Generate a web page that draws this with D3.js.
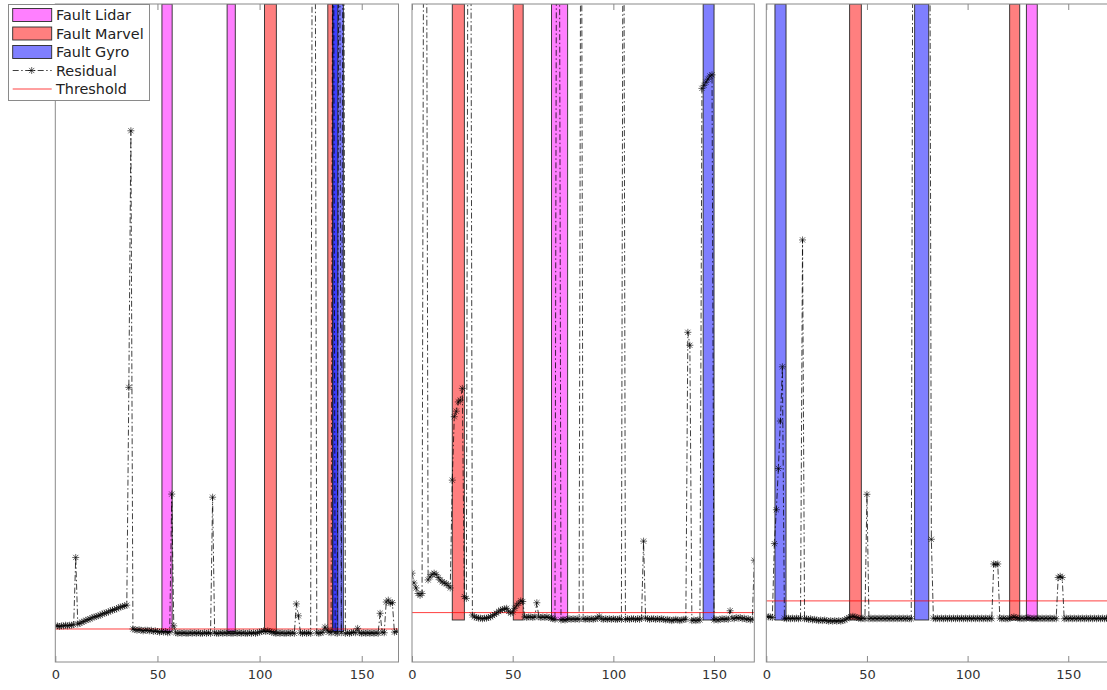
<!DOCTYPE html>
<html><head><meta charset="utf-8">
<script src="https://cdn.jsdelivr.net/npm/d3@7"></script>
<style>body{margin:0;background:#fff;} svg{display:block;font-family:"DejaVu Sans",sans-serif;}</style>
</head><body><svg id="c" width="1107" height="690"></svg>
<script>
// ---------- data ----------
const xTicks = [0, 50, 100, 150];
const legendLabels = ["Fault Lidar", "Fault Marvel", "Fault Gyro", "Residual", "Threshold"];

const residual1 = [
0.9,0.9,0.8,0.9,0.9,1.0,0.9,1.0,1.0,1.1,
11.8,1.2,1.3,1.5,1.6,1.8,1.9,2.0,2.2,2.3,
2.4,2.5,2.6,2.8,2.9,3.0,3.1,3.3,3.4,3.5,
3.6,3.8,3.9,4.0,4.1,4.2,38.9,79.8,0.4,0.3,
0.2,0.3,0.2,0.1,0.2,0.2,0.1,0.2,0.0,0.1,
0.0,-0.1,0.0,-0.1,0.0,-0.2,-0.1,21.9,0.9,-0.2,
-0.3,-0.2,-0.3,-0.2,-0.3,-0.3,-0.2,-0.3,-0.2,-0.3,
-0.2,-0.3,-0.3,-0.2,-0.3,-0.2,-0.3,21.4,-0.2,-0.3,
-0.3,-0.2,-0.3,-0.2,-0.3,-0.2,-0.3,-0.3,-0.2,-0.3,
-0.2,-0.3,-0.2,-0.3,-0.3,-0.2,-0.3,-0.2,-0.3,-0.2,
-0.1,0.0,0.1,0.0,0.1,0.0,-0.1,-0.2,-0.3,-0.2,
-0.3,-0.2,-0.3,-0.3,-0.2,-0.3,-0.2,-0.3,4.4,2.5,
-0.2,-0.3,-0.2,-0.3,-0.2,-0.3,150,150,-0.2,-0.3,
-0.2,-0.1,0.7,0.2,-0.1,-0.2,150,-0.2,-0.3,150,
-0.2,150,-0.3,-0.2,-0.3,-0.2,-0.1,-0.2,0.5,-0.2,
-0.3,-0.2,-0.3,-0.2,-0.3,-0.2,-0.3,-0.2,-0.3,2.9,
-0.1,-0.2,4.7,5.0,4.5,4.6,-0.1,0.0];

const residual2 = [
7.6,6.0,5.2,4.3,4.0,4.3,150,150,6.5,7.0,
7.4,7.6,7.4,6.9,6.5,6.2,6.0,5.9,5.6,5.2,
22.7,33.0,33.9,35.4,35.7,37.6,3.8,3.5,150,150,
0.8,0.5,0.4,0.3,0.3,0.2,0.3,0.3,0.4,0.5,
0.7,0.9,1.1,1.4,1.6,1.7,1.8,1.9,1.4,1.1,
1.3,1.9,2.4,2.7,3.1,3.0,0.5,0.4,0.5,0.5,
0.4,0.5,2.8,0.5,0.4,0.5,0.4,0.5,0.4,0.3,
0.2,0.1,150,150,0.0,0.1,0.0,0.1,0.2,0.1,
0.2,0.1,0.2,0.1,150,0.2,0.1,0.2,0.1,0.2,
0.1,0.2,0.3,0.6,0.2,0.1,0.2,0.1,0.2,0.1,
0.2,0.1,0.1,0.2,0.1,150,0.1,0.2,0.1,0.2,
0.2,0.1,0.2,0.1,0.3,12.8,0.3,0.2,0.1,0.2,
0.2,0.1,0.2,0.1,0.2,0.1,0.0,0.1,0.0,-0.1,
0.0,0.1,0.0,-0.1,0.0,0.1,0.1,46.7,44.6,-0.1,
0.0,-0.1,0.0,0.0,86.3,86.8,87.3,87.8,88.3,88.5,
0.0,0.1,0.0,0.1,0.2,0.1,0.2,0.1,1.5,0.3,
0.2,0.4,0.3,0.4,0.2,0.3,0.1,0.2,0.0,0.1,9.7];

const residual3 = [
0.6,0.5,0.5,0.4,12.4,17.9,24.6,32.3,41.1,0.3,
0.2,0.3,0.2,0.3,0.2,0.3,0.2,0.3,61.7,0.2,
0.2,0.1,0.2,0.0,0.1,0.0,-0.1,0.0,-0.1,0.0,
-0.1,-0.2,-0.1,-0.2,-0.1,-0.2,-0.1,-0.2,-0.1,0.0,
0.2,0.4,0.5,0.6,0.5,0.4,0.3,0.2,0.3,0.2,
20.4,0.2,0.3,0.2,0.3,0.2,0.3,0.2,0.3,0.2,
0.3,0.2,0.3,0.2,0.3,0.2,0.3,0.2,0.3,0.2,
0.3,0.2,0.2,150,150,150,150,150,150,150,
150,150,13.1,0.3,0.2,0.3,0.2,0.3,0.2,0.3,
0.2,0.3,0.2,0.3,0.2,0.3,0.2,0.3,0.2,0.3,
0.2,0.3,0.2,0.3,0.2,0.3,0.2,0.3,0.2,0.3,
0.2,0.3,0.2,9.1,9.0,9.1,0.3,0.2,0.3,0.2,
0.2,0.3,0.4,0.5,0.4,0.3,0.2,0.3,0.2,0.3,
0.4,0.3,0.2,0.3,0.2,0.3,0.2,0.3,0.2,0.3,
0.2,0.3,0.2,0.3,0.2,6.9,7.1,6.9,0.2,0.3,
0.2,0.3,0.2,0.3,0.2,0.3,0.2,0.3,0.2,0.3,
0.2,0.3,0.2,0.3,0.2,0.3,0.2,0.3,0.2,0.3,0.2];

const thresholds = [0.4, 1.2, 3.1];

const lidarFaults1  = [[52.2, 57.2], [84.1, 88.1]];
const marvelFaults1 = [[102.4, 108.2], [133.4, 135.8]];
const gyroFaults1   = [[135.8, 141.0], [135.8, 138.3]];
const lidarFaults2  = [[69.3, 77.3]];
const marvelFaults2 = [[20.0, 26.0], [50.3, 55.2]];
const gyroFaults2   = [[144.6, 150.0]];
const lidarFaults3  = [[129.2, 134.6]];
const marvelFaults3 = [[41.4, 47.2], [120.9, 125.9]];
const gyroFaults3   = [[4.3, 9.8], [73.7, 80.7]];

const xMax = [168, 170, 170];
const yLow = [-4.86, -6.82, -6.82];
const yHigh = [100, 100, 100];

// ---------- drawing ----------
const svg = d3.select("#c");
const panels = [
  {res: residual1, lidar: lidarFaults1, marvel: marvelFaults1, gyro: gyroFaults1, left: 55.3, right: 398.5},
  {res: residual2, lidar: lidarFaults2, marvel: marvelFaults2, gyro: gyroFaults2, left: 412, right: 754.3},
  {res: residual3, lidar: lidarFaults3, marvel: marvelFaults3, gyro: gyroFaults3, left: 766.3, right: 1108.5}
];
const plotTop = 4, plotBottom = 662;
const colors = {lidar: "#ff00ff", marvel: "#ff0000", gyro: "#0000ff"};
const starPath = "M-3.5,0H3.5M0,-3.5V3.5M-2.6,-2.6L2.6,2.6M-2.6,2.6L2.6,-2.6";
const axisColor = "#8a8a8a";

panels.forEach((p, i) => {
  const x = d3.scaleLinear().domain([0, xMax[i]]).range([p.left, p.right]);
  const y = d3.scaleLinear().domain([yLow[i], yHigh[i]]).range([plotBottom, plotTop]);
  const g = svg.append("g");
  const clipId = "clip" + i;
  svg.append("clipPath").attr("id", clipId).append("rect")
    .attr("x", p.left).attr("y", plotTop).attr("width", p.right - p.left).attr("height", plotBottom - plotTop);
  const inner = g.append("g").attr("clip-path", `url(#${clipId})`);

  ["lidar", "marvel", "gyro"].forEach(k => {
    inner.selectAll(null).data(p[k]).enter().append("rect")
      .attr("x", d => x(d[0])).attr("width", d => x(d[1]) - x(d[0]))
      .attr("y", y(yHigh[i])).attr("height", y(0) - y(yHigh[i]))
      .attr("fill", colors[k]).attr("fill-opacity", 0.5)
      .attr("stroke", "#2a2a2a").attr("stroke-width", 0.9);
  });

  inner.append("line")
    .attr("x1", x(0)).attr("x2", x(xMax[i]))
    .attr("y1", y(thresholds[i])).attr("y2", y(thresholds[i]))
    .attr("stroke", "#ff0000").attr("stroke-opacity", 0.75).attr("stroke-width", 1);

  const line = d3.line().x((d, j) => x(j)).y(d => y(d));
  inner.append("path").attr("d", line(p.res))
    .attr("fill", "none").attr("stroke", "#000").attr("stroke-width", 0.75)
    .attr("stroke-dasharray", "6,2.5,1.5,2.5");
  inner.selectAll(null).data(p.res).enter().append("path")
    .attr("transform", (d, j) => `translate(${x(j)},${y(d)})`)
    .attr("d", starPath).attr("fill", "none").attr("stroke", "#000").attr("stroke-width", 0.6);

  const ax = g.append("g").attr("transform", `translate(0,${plotBottom})`)
    .call(d3.axisBottom(x).tickValues(xTicks).tickSizeInner(-6).tickSizeOuter(0).tickPadding(8));
  ax.select(".domain").remove();
  ax.selectAll(".tick line").attr("stroke", axisColor);
  ax.selectAll(".tick text").attr("fill", "#333").attr("font-size", 13)
    .attr("font-family", '"DejaVu Sans",sans-serif');
  const axT = g.append("g").attr("transform", `translate(0,${plotTop})`)
    .call(d3.axisTop(x).tickValues(xTicks).tickSizeInner(-6).tickSizeOuter(0).tickFormat(""));
  axT.select(".domain").remove();
  axT.selectAll(".tick line").attr("stroke", axisColor);

  g.append("rect").attr("x", p.left).attr("y", plotTop)
    .attr("width", p.right - p.left).attr("height", plotBottom - plotTop)
    .attr("fill", "none").attr("stroke", axisColor).attr("stroke-width", 1);
});

// ---------- legend ----------
const lg = svg.append("g");
lg.append("rect").attr("x", 8.5).attr("y", 4.5).attr("width", 141).attr("height", 96)
  .attr("fill", "#fff").attr("stroke", "#8a8a8a").attr("stroke-width", 1);
const rowY = [15, 33.5, 52, 70.5, 89];
const swatchColors = [colors.lidar, colors.marvel, colors.gyro];
legendLabels.forEach((lab, k) => {
  const cy = rowY[k];
  if (k < 3) {
    lg.append("rect").attr("x", 12.7).attr("y", cy - 6.5).attr("width", 39).attr("height", 13)
      .attr("fill", swatchColors[k]).attr("fill-opacity", 0.5)
      .attr("stroke", "#2a2a2a").attr("stroke-width", 0.9);
  } else if (k === 3) {
    lg.append("line").attr("x1", 12.7).attr("x2", 51.7).attr("y1", cy).attr("y2", cy)
      .attr("stroke", "#000").attr("stroke-width", 0.75).attr("stroke-dasharray", "6,2.5,1.5,2.5");
    lg.append("path").attr("transform", `translate(31.7,${cy})`).attr("d", starPath)
      .attr("fill", "none").attr("stroke", "#000").attr("stroke-width", 0.6);
  } else {
    lg.append("line").attr("x1", 12.7).attr("x2", 51.7).attr("y1", cy).attr("y2", cy)
      .attr("stroke", "#ff0000").attr("stroke-opacity", 0.75).attr("stroke-width", 1);
  }
  lg.append("text").attr("x", 56).attr("y", cy + 5.2).attr("font-size", 14.4)
    .attr("fill", "#222").text(lab);
});
</script></body></html>
